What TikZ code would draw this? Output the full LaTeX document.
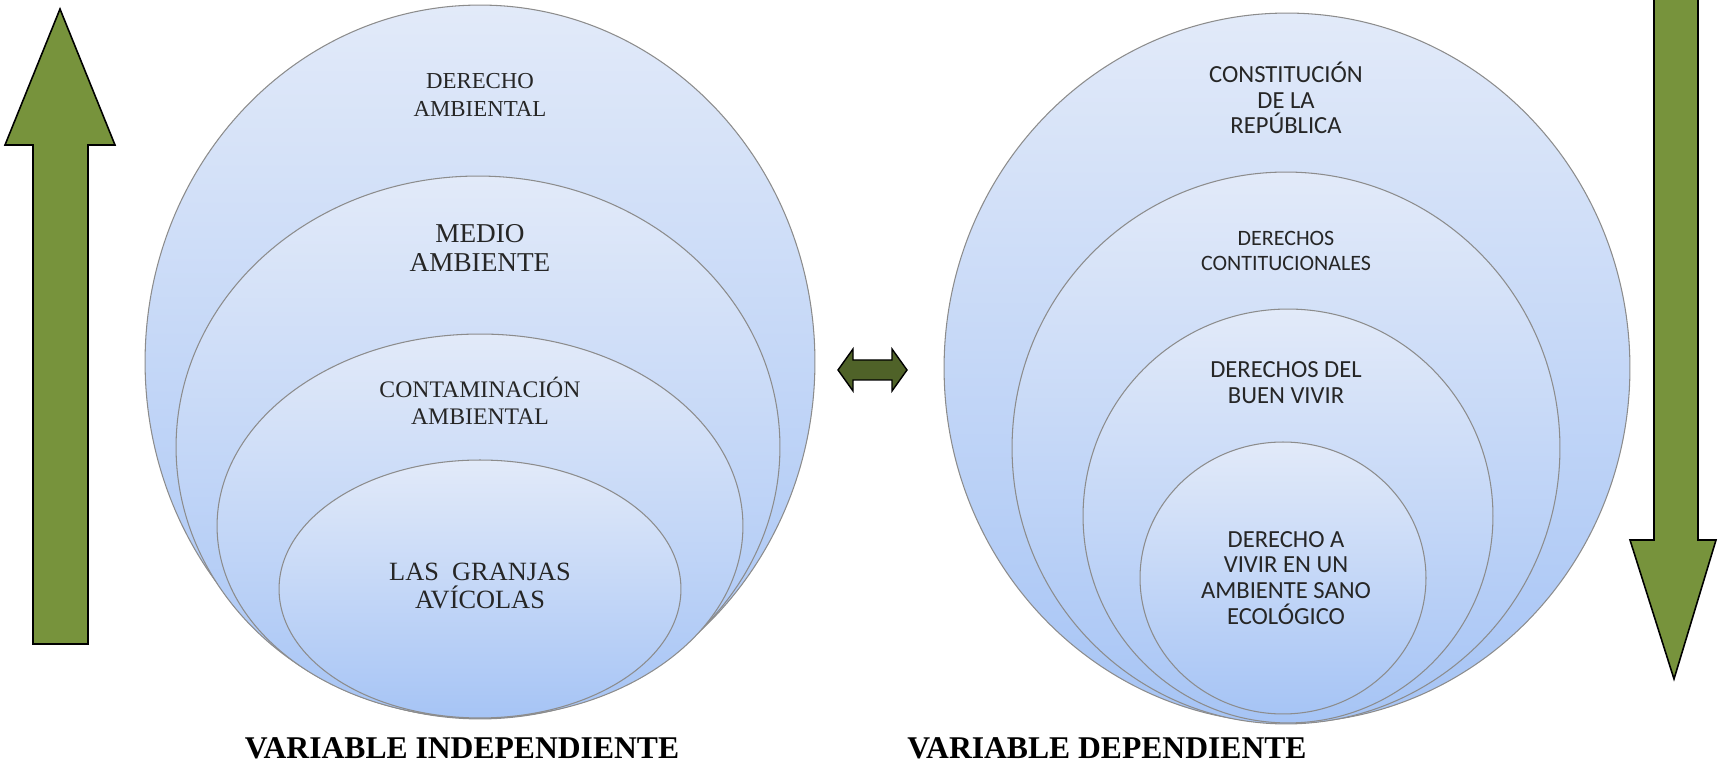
\documentclass[tikz,border=0pt]{standalone}
\usepackage{fontspec}
\setmainfont{Liberation Serif}
\newfontfamily\calibri{Carlito}
\usetikzlibrary{shapes.geometric}

\definecolor{bubtop}{RGB}{226,234,249}
\definecolor{bubbot}{RGB}{166,196,245}
\definecolor{arrowgreen}{RGB}{119,147,60}
\definecolor{darkolive}{RGB}{79,98,40}

\tikzset{
	bubble/.style={ellipse,draw=black!45,line width=0.6pt,top color=bubtop,bottom color=bubbot,inner sep=0pt,outer sep=0pt},
	lefttext/.style={align=center,text=black!85,inner sep=0pt},
	righttext/.style={align=center,text=black!85,inner sep=0pt,font=\calibri\fontsize{14}{14.7}\selectfont},
	bigarrow/.style={fill=arrowgreen,draw=black,line width=0.9pt,line join=miter},
	twinarrow/.style={fill=darkolive,draw=black,line width=0.8pt},
	varlabel/.style={font=\bfseries\fontsize{18}{20}\selectfont,inner sep=0pt}
}

\begin{document}
\begin{tikzpicture}[x=0.02cm,y=0.02cm]
	\useasboundingbox (0,0) rectangle (1718,764);

	% independiente
	\node[bubble,minimum width=13.4cm,minimum height=14.28cm] (e1) at (480,402) {};
	\node[bubble,minimum width=12.08cm,minimum height=10.84cm] (e2) at (478,317) {};
	\node[bubble,minimum width=10.52cm,minimum height=7.68cm] (e3) at (480,238) {};
	\node[bubble,minimum width=8.04cm,minimum height=5.16cm] (e4) at (480,175) {};

	\node[lefttext,font=\fontsize{13}{15.5}\selectfont] (t1) at (480,669) {DERECHO\\AMBIENTAL};
	\node[lefttext,font=\fontsize{15.5}{17}\selectfont] (t2) at (480,516) {MEDIO\\AMBIENTE};
	\node[lefttext,font=\fontsize{13.5}{15}\selectfont] (t3) at (480,363) {CONTAMINACIÓN\\AMBIENTAL};
	\node[lefttext,font=\fontsize{15}{16}\selectfont] (t4) at (480,178) {LAS\ \ GRANJAS\\AVÍCOLAS};

	% dependiente
	\node[bubble,minimum width=13.72cm,minimum height=14.2cm] (r1) at (1287,396) {};
	\node[bubble,minimum width=10.96cm,minimum height=11.04cm] (r2) at (1286,316) {};
	\node[bubble,minimum width=8.2cm,minimum height=8.28cm] (r3) at (1288,248) {};
	\node[bubble,minimum width=5.72cm,minimum height=5.44cm] (r4) at (1283,186) {};

	\node[righttext,font=\calibri\fontsize{14}{14.5}\selectfont] (s1) at (1286,666) {CONSTITUCIÓN\\DE LA\\REPÚBLICA};
	\node[righttext,font=\calibri\fontsize{12.5}{14.3}\selectfont] (s2) at (1286,513) {DERECHOS\\CONTITUCIONALES};
	\node[righttext] (s3) at (1286,381) {DERECHOS DEL\\BUEN VIVIR};
	\node[righttext] (s4) at (1286,186) {DERECHO A\\VIVIR EN UN\\AMBIENTE SANO\\ECOLÓGICO};

	% flechas
	\draw[bigarrow] (33,120) -- (33,619) -- (5,619) -- (60,755) -- (115,619) -- (88,619) -- (88,120) -- cycle;
	\draw[bigarrow] (1654,775) -- (1654,224) -- (1630,224) -- (1674,85) -- (1716,224) -- (1698,224) -- (1698,775) -- cycle;
	\draw[twinarrow] (838,394) -- (853,415) -- (853,404) -- (892,404) -- (892,415) -- (907,394)
		-- (892,373) -- (892,384) -- (853,384) -- (853,373) -- cycle;

	\node[varlabel] (lind) at (462,16) {VARIABLE INDEPENDIENTE};
	\node[varlabel] (ldep) at (1107,16) {VARIABLE DEPENDIENTE};
\end{tikzpicture}
\end{document}
